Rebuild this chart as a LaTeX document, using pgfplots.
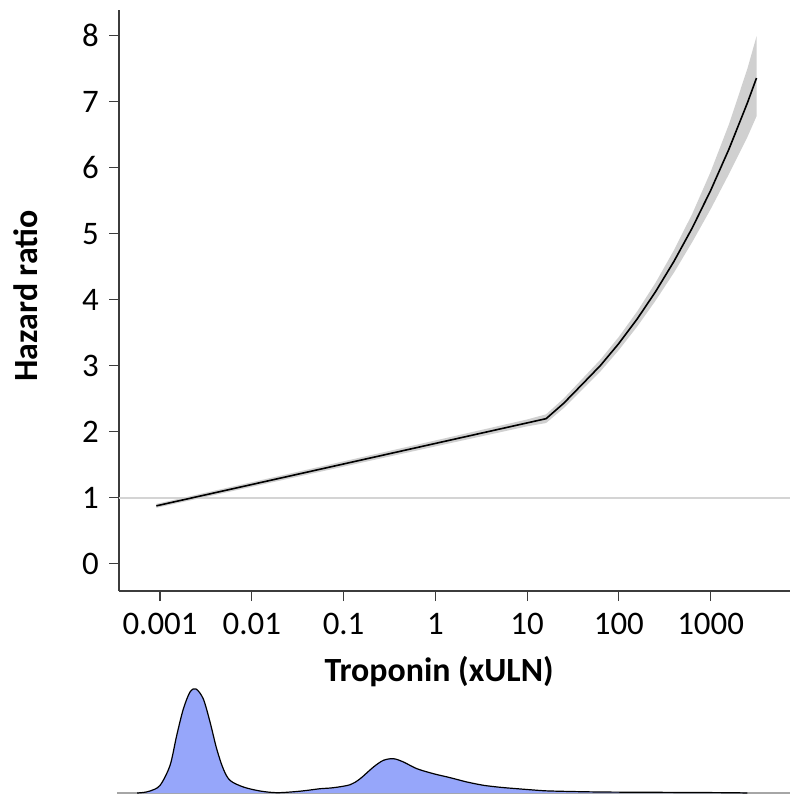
\documentclass[border=0pt]{standalone}
\usepackage{fontspec}
\setmainfont{Carlito}
\usepackage{pgfplots}
\pgfplotsset{compat=1.18}

\definecolor{bandgray}{RGB}{208,208,208}
\definecolor{refgray}{RGB}{212,212,212}
\definecolor{axisgray}{RGB}{60,60,60}
\definecolor{densblue}{RGB}{150,166,250}

\begin{document}
\begin{tikzpicture}
\useasboundingbox (-119bp,-205bp) rectangle (671bp,591bp);
\begin{axis}[
  at={(0,0)}, anchor=south west,
  scale only axis, width=671bp, height=581bp,
  xmode=log, log basis x=10,
  xmin=3.57e-4, xmax=7328,
  ymin=-0.41, ymax=8.39,
  axis x line=bottom, axis y line=left,
  axis line style={axisgray, line width=1.3bp, -},
  tick style={axisgray, line width=1.1bp},
  tick align=outside, major tick length=10bp,
  minor tick num=0, log ticks with fixed point,
  xtick={0.001,0.01,0.1,1,10,100,1000},
  xticklabels={0.001,0.01,0.1,1,10,100,1000},
  ytick={0,1,...,8},
  /pgf/number format/assume math mode=true,
  tick label style={font=\fontsize{33}{36}\selectfont},
  yticklabel style={inner sep=0pt, xshift=-10bp},
  xticklabel style={inner sep=0pt, yshift=-12bp},
  label style={font=\fontsize{34}{38}\selectfont\bfseries},
  xlabel={Troponin (xULN)},
  xlabel style={at={(axis description cs:0.477,-0.1566)}, anchor=base},
  ylabel={Hazard ratio},
  ylabel style={at={(axis description cs:-0.1386,0.508)}, anchor=center, rotate=0},
  clip=false,
]
% reference line at HR = 1
\addplot[refgray, line width=1.5bp] coordinates {(3.57e-4,1) (7328,1)};

% 95% confidence band (upper edge left to right, lower edge back)
\addplot[fill=bandgray, draw=none] coordinates {
  (0.000912,0.91) (0.01,1.238) (0.1,1.554) (1,1.870) (10,2.188) (16.1,2.266)
  (25.12,2.508) (39.81,2.802) (63.10,3.097) (100,3.440) (158.5,3.826)
  (251.2,4.260) (398.1,4.752) (631.0,5.304) (1000,5.939) (1585,6.661)
  (2512,7.498) (3162,7.99)
  (3162,6.78) (2512,6.464) (1585,5.907) (1000,5.373) (631.0,4.876)
  (398.1,4.412) (251.2,3.988) (158.5,3.596) (100,3.240) (63.10,2.917)
  (39.81,2.638) (25.12,2.362) (16.1,2.134) (10,2.084) (1,1.780)
  (0.1,1.474) (0.01,1.168) (0.000912,0.85)
} -- cycle;

% hazard ratio estimate
\addplot[black, line width=1.6bp] coordinates {
  (0.000912,0.88) (0.01,1.203) (0.1,1.514) (1,1.825) (10,2.136) (16.1,2.200)
  (25.12,2.435) (39.81,2.720) (63.10,3.007) (100,3.340) (158.5,3.711)
  (251.2,4.124) (398.1,4.582) (631.0,5.090) (1000,5.656) (1585,6.284)
  (2512,6.981) (3162,7.360)
};
\end{axis}

% distribution of troponin (log10 scale)
\begin{axis}[
  at={(0bp,-202bp)}, anchor=south west,
  scale only axis, width=671bp, height=110bp,
  xmin=-3.447, xmax=3.865, ymin=0, ymax=110,
  hide axis, clip=false,
]
\addplot[gray!70, line width=1.8bp] coordinates {(-3.47,0) (3.87,0)};
\addplot[fill=densblue, draw=black, line width=1.2bp, smooth, tension=0.5] coordinates {
  (-3.25,0) (-3.185,0.5) (-3.109,2) (-3.0,7.6) (-2.891,27.6) (-2.818,57.6)
  (-2.746,84) (-2.673,101) (-2.607,104) (-2.528,94) (-2.455,71) (-2.382,44)
  (-2.310,24) (-2.237,12.6) (-2.092,6) (-1.910,2) (-1.727,0.3) (-1.509,1.5)
  (-1.364,3) (-1.255,4.3) (-1.110,5.3) (-0.928,8.3) (-0.819,14.3) (-0.674,26)
  (-0.565,32.7) (-0.456,34.3) (-0.347,31) (-0.201,24.3) (-0.020,19.3)
  (0.163,15.3) (0.345,11) (0.526,7.7) (0.708,5.7) (0.890,4.3) (1.071,3)
  (1.253,2) (1.798,1) (2.600,0.6) (3.200,0.3) (3.40,0)
};
\end{axis}
\end{tikzpicture}
\end{document}
